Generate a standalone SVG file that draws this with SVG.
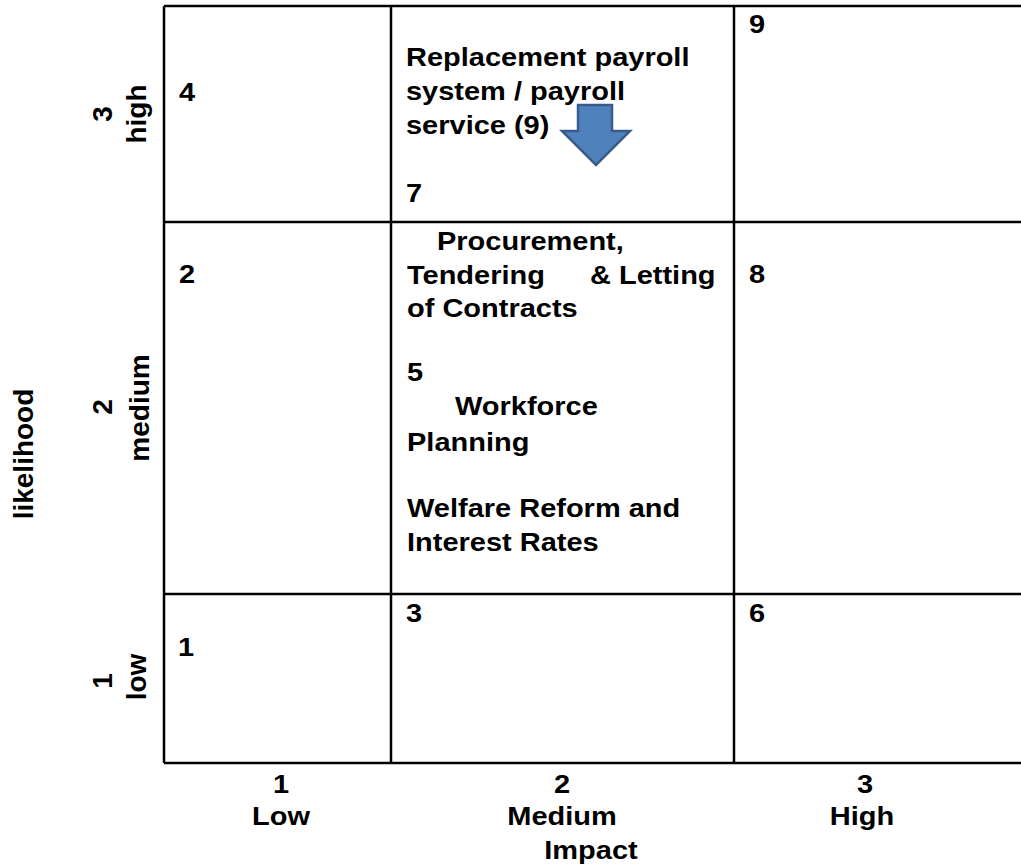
<svg xmlns="http://www.w3.org/2000/svg" width="1021" height="867" viewBox="0 0 1021 867">
<style>
text{font-family:"Liberation Sans",Arial,sans-serif;font-weight:bold;fill:#000}
.t{font-size:29px}
.r{font-size:28px;text-anchor:middle}
.c{font-size:29px;text-anchor:middle}
.grid{stroke:#000;stroke-width:2.5;fill:none}
.arrow{fill:#4F81BD;stroke:#385D8A;stroke-width:2.5;stroke-linejoin:miter}
</style>
<rect width="1021" height="867" fill="#fff"/>
<g id="grid" class="grid">
<path d="M164,6 H1021 M164,222 H1021 M164,594 H1021 M164,763 H1021 M164,6 V763 M391,6 V763 M734,6 V763"/>
</g>
<g id="axis-likelihood">
<text class="r" font-size="29" transform="translate(33,454) rotate(-90)">likelihood</text>
<text class="r" transform="translate(112,114) rotate(-90)">3</text>
<text class="r" transform="translate(146,114) rotate(-90)">high</text>
<text class="r" transform="translate(112,407) rotate(-90)">2</text>
<text class="r" transform="translate(149,408) rotate(-90)">medium</text>
<text class="r" transform="translate(112,681) rotate(-90)">1</text>
<text class="r" transform="translate(146,677) rotate(-90)">low</text>
</g>
<g id="axis-impact">
<text class="c" transform="translate(281,793) scale(1,0.88)">1</text>
<text class="c" transform="translate(281,825) scale(1,0.88)">Low</text>
<text class="c" transform="translate(562,793) scale(1,0.88)">2</text>
<text class="c" transform="translate(562,825) scale(1,0.88)">Medium</text>
<text class="c" transform="translate(865,793) scale(1,0.88)">3</text>
<text class="c" transform="translate(862,825) scale(1,0.88)">High</text>
<text class="c" transform="translate(591,859) scale(1,0.88)">Impact</text>
</g>
<g id="cell-high-low">
<text class="t" transform="translate(179,101) scale(1,0.88)">4</text>
</g>
<g id="cell-high-medium">
<text class="t" transform="translate(406,66) scale(1,0.88)">Replacement payroll</text>
<text class="t" transform="translate(406,100) scale(1,0.88)">system / payroll</text>
<text class="t" transform="translate(406,134) scale(1,0.88)">service (9)</text>
<text class="t" transform="translate(406,202) scale(1,0.88)">7</text>
</g>
<g id="down-arrow">
<path class="arrow" d="M578,105 L612,105 L612,131 L630,131 L596,165 L562,131 L578,131 Z"/>
</g>
<g id="cell-high-high">
<text class="t" transform="translate(749,33) scale(1,0.88)">9</text>
</g>
<g id="cell-medium-low">
<text class="t" transform="translate(179,283) scale(1,0.88)">2</text>
</g>
<g id="cell-medium-medium">
<text class="t" transform="translate(437,250) scale(1,0.88)">Procurement,</text>
<text class="t" transform="translate(407,284) scale(1,0.88)">Tendering<tspan x="183">&amp; Letting</tspan></text>
<text class="t" transform="translate(407,317) scale(1,0.88)">of Contracts</text>
<text class="t" transform="translate(407,381) scale(1,0.88)">5</text>
<text class="t" transform="translate(455,415) scale(1,0.88)">Workforce</text>
<text class="t" transform="translate(407,451) scale(1,0.88)">Planning</text>
<text class="t" transform="translate(407,517) scale(1,0.88)">Welfare Reform and</text>
<text class="t" transform="translate(407,551) scale(1,0.88)">Interest Rates</text>
</g>
<g id="cell-medium-high">
<text class="t" transform="translate(749,283) scale(1,0.88)">8</text>
</g>
<g id="cell-low-low">
<text class="t" transform="translate(178,656) scale(1,0.88)">1</text>
</g>
<g id="cell-low-medium">
<text class="t" transform="translate(406,622) scale(1,0.88)">3</text>
</g>
<g id="cell-low-high">
<text class="t" transform="translate(749,622) scale(1,0.88)">6</text>
</g>
</svg>
